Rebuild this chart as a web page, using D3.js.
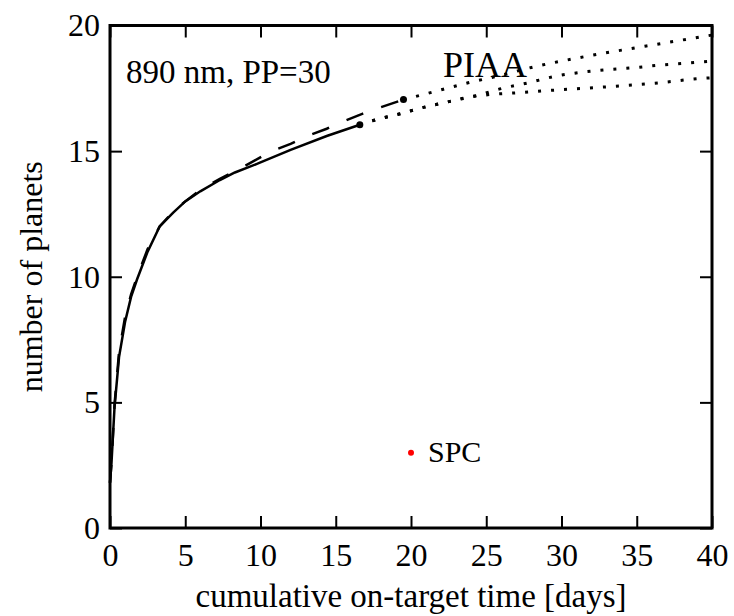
<!DOCTYPE html>
<html lang="en">
<head>
    <meta charset="UTF-8">
    <title>Number of planets vs cumulative on-target time</title>
    <style>
        body {
            margin: 0;
            padding: 0;
            background: #ffffff;
        }
        svg text {
            font-family: 'Liberation Serif', 'Times New Roman', serif;
            fill: #000;
        }
        .axis path {
            display: none;
        }
        .axis line {
            stroke: #000;
            stroke-width: 2;
        }
    </style>
</head>
<body>

<div id="chart"></div>

<script src="https://d3js.org/d3.v7.min.js"></script>

<script>
  // Data: [days, planets]
  const solidCurve = [
    [0, 1.8], [0.1, 2.6], [0.3, 4.8], [0.6, 6.8], [1.0, 8.2], [1.4, 9.2], [1.8, 9.9],
    [2.5, 11.0], [3.3, 12.0], [4.2, 12.55], [5.0, 13.0], [6.0, 13.4], [7.3, 13.85],
    [8.3, 14.15], [9.8, 14.5], [12.0, 15.05], [14.4, 15.6], [16.6, 16.05]
  ];
  const dashedCurve = [
    [0, 1.8], [0.1, 2.6], [0.3, 4.9], [0.6, 7.0], [1.0, 8.4], [1.4, 9.3], [1.8, 10.0],
    [2.5, 11.1], [3.3, 12.0], [4.2, 12.6], [5.0, 13.0], [6.0, 13.45], [7.3, 13.9],
    [8.3, 14.2], [9.6, 14.62], [10.6, 14.96], [12.0, 15.29], [13.1, 15.6], [14.4, 15.89],
    [15.5, 16.18], [16.8, 16.49], [18.0, 16.75], [19.5, 17.05]
  ];
  const dottedTop = [
    [19.5, 17.05], [21.3, 17.33], [23.8, 17.72], [26.0, 18.02], [28.0, 18.33],
    [31.0, 18.7], [34.0, 19.02], [37.0, 19.32], [40.0, 19.62]
  ];
  const dottedMiddle = [
    [16.6, 16.05], [17.5, 16.22], [19.3, 16.49], [20.9, 16.75], [22.6, 16.98],
    [24.4, 17.22], [26.0, 17.49], [27.8, 17.72], [29.5, 17.97], [31.2, 18.13],
    [33.0, 18.24], [34.8, 18.32], [36.5, 18.42], [38.3, 18.5], [40.0, 18.58]
  ];
  const dottedBottom = [
    [16.6, 16.05], [17.5, 16.22], [19.3, 16.49], [20.9, 16.75], [22.6, 16.98],
    [23.5, 17.11], [25.2, 17.25], [27.0, 17.32], [28.8, 17.4], [31.5, 17.5],
    [34.0, 17.6], [36.5, 17.72], [39.4, 17.9], [40.0, 17.92]
  ];
  const endPoints = [[16.6, 16.05], [19.5, 17.05]];
  const spcPoint = [20, 3];

  const xTicks = [0, 5, 10, 15, 20, 25, 30, 35, 40];
  const yTicks = [0, 5, 10, 15, 20];

  const width = 734, height = 616;
  const margin = { top: 25.5, right: 22, bottom: 88, left: 110 };
  const plotW = width - margin.left - margin.right;
  const plotH = height - margin.top - margin.bottom;

  const svg = d3.select("#chart").append("svg")
    .attr("width", width)
    .attr("height", height);

  const g = svg.append("g")
    .attr("transform", `translate(${margin.left},${margin.top})`);

  const x = d3.scaleLinear().domain([0, 40]).range([0, plotW]);
  const y = d3.scaleLinear().domain([0, 20]).range([plotH, 0]);

  // 1. Axes, ticks pointing inward on all four sides
  g.append("g").attr("class", "axis")
    .attr("transform", `translate(0,${plotH})`)
    .call(d3.axisBottom(x).tickValues(xTicks).tickSize(-12).tickPadding(15))
    .selectAll("text").style("font-size", "32px");

  g.append("g").attr("class", "axis")
    .call(d3.axisTop(x).tickValues(xTicks).tickSize(-12).tickFormat(""));

  g.append("g").attr("class", "axis")
    .call(d3.axisLeft(y).tickValues(yTicks).tickSize(-12).tickPadding(10))
    .selectAll("text").style("font-size", "32px");

  g.append("g").attr("class", "axis")
    .attr("transform", `translate(${plotW},0)`)
    .call(d3.axisRight(y).tickValues(yTicks).tickSize(-12).tickFormat(""));

  // frame
  g.append("rect")
    .attr("width", plotW)
    .attr("height", plotH)
    .attr("fill", "none")
    .attr("stroke", "#000")
    .attr("stroke-width", 3);

  // 2. Curves
  const line = d3.line().x(d => x(d[0])).y(d => y(d[1]));
  const smooth = d3.line().x(d => x(d[0])).y(d => y(d[1])).curve(d3.curveMonotoneX);

  g.append("path").datum(dashedCurve)
    .attr("d", line)
    .attr("fill", "none")
    .attr("stroke", "#000")
    .attr("stroke-width", 2.5)
    .attr("stroke-dasharray", "18,19");

  g.append("path").datum(solidCurve)
    .attr("d", line)
    .attr("fill", "none")
    .attr("stroke", "#000")
    .attr("stroke-width", 2.5);

  [dottedTop, dottedMiddle, dottedBottom].forEach(series => {
    g.append("path").datum(series)
      .attr("d", smooth)
      .attr("fill", "none")
      .attr("stroke", "#000")
      .attr("stroke-width", 3)
      .attr("stroke-dasharray", "3,10");
  });

  g.selectAll(".end-dot").data(endPoints).enter()
    .append("circle")
    .attr("cx", d => x(d[0]))
    .attr("cy", d => y(d[1]))
    .attr("r", 3.5)
    .attr("fill", "#000");

  // SPC point
  g.append("circle")
    .attr("cx", x(spcPoint[0]))
    .attr("cy", y(spcPoint[1]))
    .attr("r", 3)
    .attr("fill", "#ff0000");

  // 3. Labels
  g.append("text")
    .attr("x", x(spcPoint[0]) + 17)
    .attr("y", y(spcPoint[1]) + 9)
    .style("font-size", "30px")
    .text("SPC");

  g.append("text")
    .attr("x", 333)
    .attr("y", 51)
    .style("font-size", "36px")
    .text("PIAA");

  g.append("text")
    .attr("x", 16)
    .attr("y", 57)
    .style("font-size", "33px")
    .text("890 nm, PP=30");

  svg.append("text")
    .attr("x", margin.left + plotW / 2)
    .attr("y", 607)
    .attr("text-anchor", "middle")
    .style("font-size", "33px")
    .text("cumulative on-target time [days]");

  svg.append("text")
    .attr("transform", `translate(42,${margin.top + plotH / 2}) rotate(-90)`)
    .attr("text-anchor", "middle")
    .style("font-size", "32px")
    .text("number of planets");
</script>

</body>
</html>
